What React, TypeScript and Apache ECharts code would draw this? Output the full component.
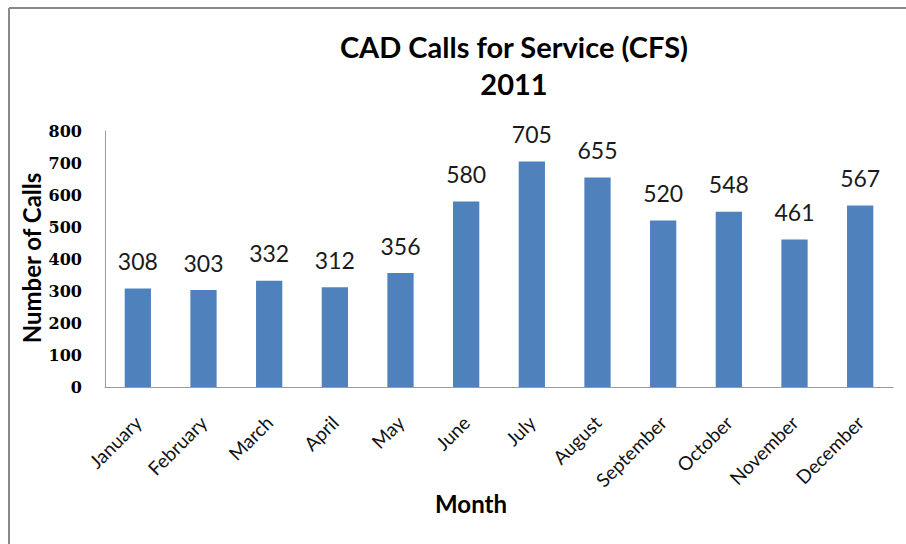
import React, { useEffect, useRef } from "react";
import * as echarts from "echarts";

const months = [
  "January", "February", "March", "April", "May", "June",
  "July", "August", "September", "October", "November", "December",
];
const calls = [308, 303, 332, 312, 356, 580, 705, 655, 520, 548, 461, 567];
const titleLines = ["CAD Calls for Service (CFS)", "2011"];
const yAxisTitle = "Number of Calls";
const xAxisTitle = "Month";

export default function App() {
  const ref = useRef<HTMLDivElement>(null);
  useEffect(() => {
    document.body.style.margin = "0";
    const chart = echarts.init(ref.current!, null, { renderer: "svg" });
    const sans = "Lato";
    chart.setOption({
      animation: false,
      backgroundColor: "#ffffff",
      grid: { left: 105, right: 13, top: 131, bottom: 157, containLabel: false },
      graphic: [
        { type: "line", shape: { x1: 9, y1: 8, x2: 906, y2: 8 }, style: { stroke: "#8a8a8a", lineWidth: 2 } },
        { type: "line", shape: { x1: 9, y1: 8, x2: 9, y2: 544 }, style: { stroke: "#8a8a8a", lineWidth: 2 } },
        {
          type: "text", x: 514, y: 46,
          style: { text: titleLines[0], font: `bold 29px ${sans}`, fill: "#000", align: "center", verticalAlign: "middle" },
        },
        {
          type: "text", x: 514, y: 83,
          style: { text: titleLines[1], font: `bold 29px ${sans}`, fill: "#000", align: "center", verticalAlign: "middle" },
        },
        {
          type: "text", x: 31, y: 258, rotation: Math.PI / 2,
          style: { text: yAxisTitle, font: `bold 24px ${sans}`, fill: "#000", align: "center", verticalAlign: "middle" },
        },
        {
          type: "text", x: 471, y: 503,
          style: { text: xAxisTitle, font: `bold 24px ${sans}`, fill: "#000", align: "center", verticalAlign: "middle" },
        },
      ],
      xAxis: {
        type: "category",
        data: months,
        axisLine: { show: true, lineStyle: { color: "#9a9a9a", width: 1 } },
        axisTick: { show: false },
        axisLabel: {
          rotate: 45,
          interval: 0,
          margin: 32,
          fontFamily: sans,
          fontSize: 19,
          color: "#111",
        },
      },
      yAxis: {
        type: "value",
        min: 0,
        max: 800,
        interval: 100,
        splitLine: { show: false },
        axisLine: { show: true, lineStyle: { color: "#9a9a9a", width: 1 } },
        axisTick: { show: false },
        axisLabel: {
          margin: 23,
          fontFamily: "DejaVu Serif",
          fontWeight: "bold",
          fontSize: 16,
          color: "#000",
        },
      },
      series: [
        {
          type: "bar",
          data: calls,
          barWidth: "40%",
          itemStyle: { color: "#4F81BD" },
          label: {
            show: true,
            position: "top",
            distance: 16,
            fontFamily: sans,
            fontSize: 23,
            color: "#1a1a1a",
          },
        },
      ],
    });
    return () => chart.dispose();
  }, []);
  return <div ref={ref} style={{ width: 906, height: 544, position: "absolute", left: 0, top: 0 }} />;
}
